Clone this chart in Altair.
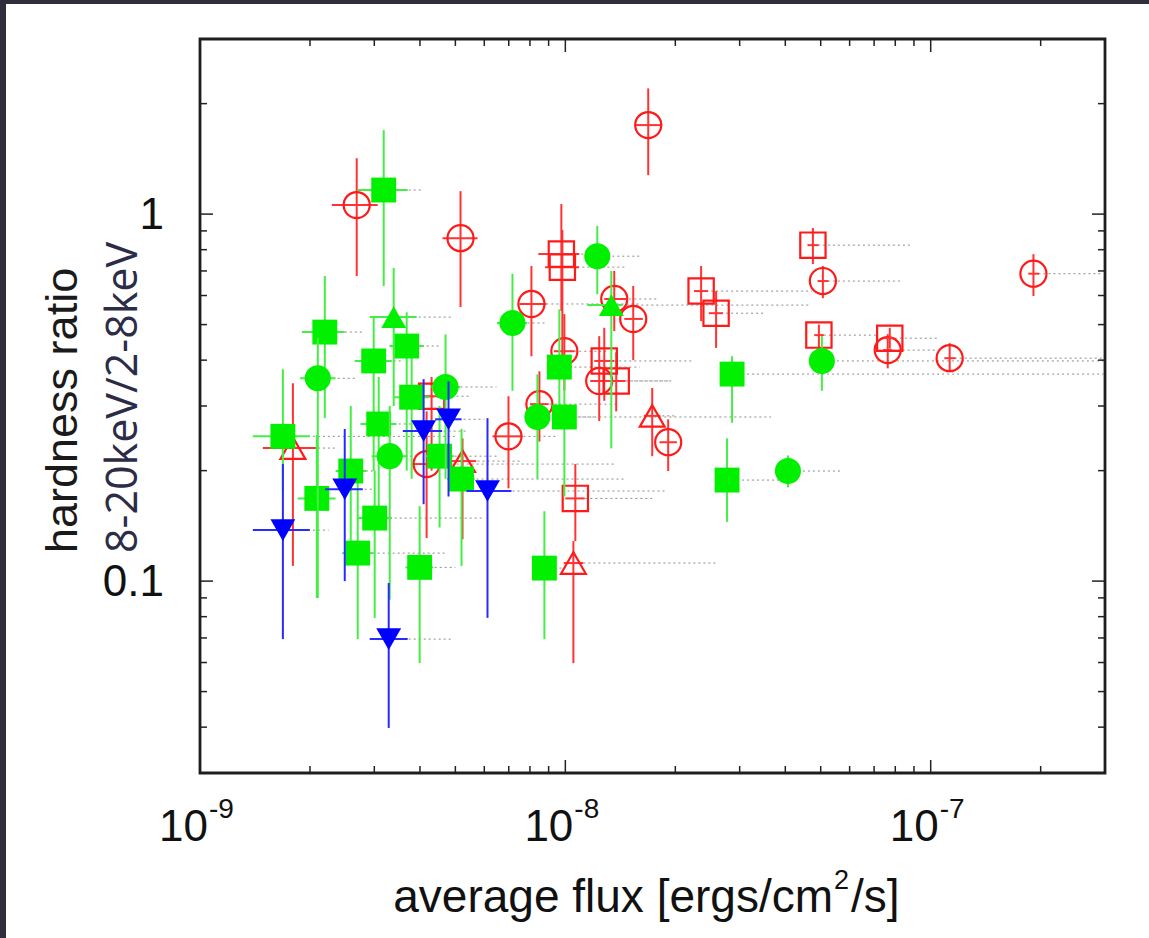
import altair as alt
import pandas as pd

W, H = 905, 734

# ---------------- data ----------------
# red open circles
rc_x = [2.685e-9, 5.165e-9, 1.686e-8, 8.075e-9, 1.361e-8, 1.534e-8, 5.069e-8, 1.911e-7, 7.628e-8, 1.127e-7, 9.938e-9, 8.492e-9, 6.988e-9, 1.238e-8, 1.912e-8, 4.171e-9]
rc_y = [1.058, 0.860, 1.748, 0.569, 0.587, 0.518, 0.657, 0.688, 0.426, 0.405, 0.423, 0.3035, 0.248, 0.351, 0.239, 0.2084]
rc_xlo = [2.295e-9, 4.612e-9, 1.554e-8, 7.488e-9, 1.278e-8, 1.45e-8, 4.9e-8, 1.85e-7, 7.4e-8, 1.09e-7, 9.3e-9, 8.0e-9, 6.317e-9, 1.17e-8, 1.81e-8, 3.8e-9]
rc_xhi = [3.065e-9, 5.749e-9, 1.841e-8, 8.874e-9, 1.468e-8, 1.63e-8, 5.25e-8, 1.98e-7, 7.85e-8, 1.17e-7, 1.06e-8, 9.0e-9, 7.631e-9, 1.31e-8, 2.02e-8, 4.6e-9]
rc_ylo = [0.678, 0.558, 1.277, 0.410, 0.480, 0.400, 0.590, 0.598, 0.380, 0.371, 0.330, 0.240, 0.179, 0.273, 0.1995, 0.131]
rc_yhi = [1.42, 1.155, 2.20, 0.722, 0.700, 0.637, 0.722, 0.778, 0.471, 0.445, 0.534, 0.373, 0.319, 0.465, 0.276, 0.290]
rc_xend = [2.685e-9, 5.165e-9, 1.686e-8, 1.593e-8, 1.784e-8, 1.534e-8, 8.333e-8, 2.97e-7, 1.05e-7, 2.97e-7, 1.3e-8, 1.4e-8, 9.45e-9, 1.95e-8, 1.912e-8, 1.36e-8]

# red open squares
rs_x = [9.752e-9, 9.813e-9, 2.353e-8, 2.586e-8, 4.76e-8, 4.943e-8, 7.727e-8, 1.278e-8, 1.378e-8, 1.065e-8, 4.304e-9]
rs_y = [0.778, 0.717, 0.617, 0.537, 0.823, 0.468, 0.459, 0.398, 0.351, 0.168, 0.319]
rs_xlo = [8.438e-9, 8.8e-9, 2.25e-8, 2.47e-8, 4.6e-8, 4.8e-8, 7.5e-8, 1.2e-8, 1.3e-8, 1.0e-8, 4.0e-9]
rs_xhi = [1.092e-8, 1.09e-8, 2.46e-8, 2.7e-8, 4.93e-8, 5.1e-8, 7.95e-8, 1.36e-8, 1.46e-8, 1.13e-8, 4.6e-9]
rs_ylo = [0.545, 0.385, 0.511, 0.432, 0.731, 0.43, 0.43, 0.31, 0.29, 0.1285, 0.20]
rs_yhi = [1.065, 0.905, 0.722, 0.617, 0.916, 0.50, 0.49, 0.49, 0.42, 0.2084, 0.36]
rs_xend = [1.2e-8, 1.468e-8, 4.731e-8, 3.542e-8, 8.818e-8, 7.2e-8, 1.052e-7, 2.21e-8, 1.949e-8, 1.729e-8, 5.5e-9]

# red open triangles
rt_x = [1.796e-9, 5.231e-9, 1.729e-8, 1.052e-8]
rt_y = [0.2304, 0.2123, 0.282, 0.112]
rt_xlo = [1.486e-9, 4.8e-9, 1.64e-8, 9.9e-9]
rt_xhi = [2.088e-9, 5.7e-9, 1.82e-8, 1.12e-8]
rt_ylo = [0.110, 0.130, 0.219, 0.0598]
rt_yhi = [0.346, 0.245, 0.336, 0.1285]
rt_xend = [2.368e-9, 7.5e-9, 2.0e-8, 2.586e-8]

# green filled squares
gs_x = [3.183e-9, 2.196e-9, 2.988e-9, 3.679e-9, 3.796e-9, 3.084e-9, 1.686e-9, 2.586e-9, 2.088e-9, 3.007e-9, 2.702e-9, 3.992e-9, 4.526e-9, 5.198e-9, 8.763e-9, 9.938e-9, 9.63e-9, 2.86e-8, 2.771e-8]
gs_y = [1.163, 0.477, 0.398, 0.437, 0.317, 0.268, 0.248, 0.1995, 0.168, 0.1485, 0.1192, 0.109, 0.219, 0.1897, 0.1085, 0.280, 0.383, 0.3665, 0.1885]
gs_xlo = [2.702e-9, 1.900e-9, 2.65e-9, 3.3e-9, 3.4e-9, 2.75e-9, 1.395e-9, 2.35e-9, 1.85e-9, 2.7e-9, 2.45e-9, 3.65e-9, 4.15e-9, 4.75e-9, 8.2e-9, 9.2e-9, 8.9e-9, 2.72e-8, 2.65e-8]
gs_xhi = [3.702e-9, 2.49e-9, 3.35e-9, 4.1e-9, 4.25e-9, 3.45e-9, 1.998e-9, 2.85e-9, 2.35e-9, 3.35e-9, 2.98e-9, 4.35e-9, 4.95e-9, 5.65e-9, 9.4e-9, 1.07e-8, 1.04e-8, 3.0e-8, 2.9e-8]
gs_ylo = [0.637, 0.278, 0.1995, 0.20, 0.19, 0.15, 0.176, 0.12, 0.09, 0.0794, 0.0695, 0.0598, 0.14, 0.110, 0.0695, 0.17, 0.27, 0.27, 0.145]
gs_yhi = [1.694, 0.678, 0.521, 0.54, 0.43, 0.36, 0.378, 0.30, 0.25, 0.20, 0.19, 0.16, 0.30, 0.26, 0.155, 0.40, 0.55, 0.41, 0.245]
gs_xend = [4.068e-9, 2.788e-9, 3.6e-9, 4.5e-9, 4.7e-9, 3.8e-9, 5.0e-9, 3.0e-9, 2.368e-9, 6.0e-9, 4.67e-9, 5.0e-9, 6.5e-9, 1.468e-8, 1.0e-8, 3.655e-8, 1.6e-8, 2.97e-7, 3.843e-8]

# green filled circles
gc_x = [2.101e-9, 3.306e-9, 4.700e-9, 7.166e-9, 8.386e-9, 1.223e-8, 5.037e-8, 4.067e-8]
gc_y = [0.357, 0.219, 0.338, 0.505, 0.280, 0.768, 0.398, 0.1995]
gc_xlo = [1.88e-9, 2.95e-9, 4.3e-9, 6.5e-9, 7.8e-9, 1.15e-8, 4.85e-8, 3.95e-8]
gc_xhi = [2.35e-9, 3.7e-9, 5.15e-9, 7.85e-9, 9.0e-9, 1.3e-8, 5.2e-8, 4.2e-8]
gc_ylo = [0.090, 0.089, 0.19, 0.330, 0.190, 0.605, 0.330, 0.18]
gc_yhi = [0.46, 0.30, 0.47, 0.687, 0.366, 0.928, 0.465, 0.22]
gc_xend = [2.7e-9, 4.0e-9, 6.48e-9, 8.874e-9, 1.2e-8, 1.593e-8, 2.97e-7, 5.713e-8]

# green filled triangles
gt_x = [3.39e-9, 1.336e-8]
gt_y = [0.524, 0.565]
gt_xlo = [2.914e-9, 1.148e-8]
gt_xhi = [3.92e-9, 1.43e-8]
gt_ylo = [0.30, 0.23]
gt_yhi = [0.713, 0.70]
gt_xend = [4.912e-9, 4.643e-8]

# blue filled down-triangles
bt_x = [1.686e-9, 2.49e-9, 3.285e-9, 4.093e-9, 4.789e-9, 6.122e-9]
bt_y = [0.1377, 0.178, 0.0695, 0.2563, 0.276, 0.176]
bt_xlo = [1.395e-9, 2.2e-9, 2.914e-9, 3.59e-9, 4.4e-9, 5.364e-9]
bt_xhi = [1.998e-9, 2.79e-9, 3.702e-9, 4.6e-9, 5.2e-9, 7.121e-9]
bt_ylo = [0.0695, 0.100, 0.0398, 0.162, 0.17, 0.0794]
bt_yhi = [0.2084, 0.2597, 0.0988, 0.355, 0.35, 0.278]
bt_xend = [2.25e-9, 3.0e-9, 4.881e-9, 5.4e-9, 6.0e-9, 1.888e-8]

# axis ticks / labels
x_major = [1e-9, 1e-8, 1e-7]
x_exp = ["-9", "-8", "-7"]
x_minor = [2e-9, 3e-9, 4e-9, 5e-9, 6e-9, 7e-9, 8e-9, 9e-9,
           2e-8, 3e-8, 4e-8, 5e-8, 6e-8, 7e-8, 8e-8, 9e-8, 2e-7]
y_major = [0.1, 1.0]
y_labels = ["0.1", "1"]
y_minor = [0.04, 0.05, 0.06, 0.07, 0.08, 0.09,
           0.2, 0.3, 0.4, 0.5, 0.6, 0.7, 0.8, 0.9, 2.0]

x_title_main = "average flux [ergs/cm"
x_title_sup = "2"
x_title_tail = "/s]"
y_title1 = "hardness ratio"
y_title2 = "8-20keV/2-8keV"

# ---------------- chart ----------------
xs = alt.Scale(type="log", domain=[1e-9, 3e-7], nice=False)
ys = alt.Scale(type="log", domain=[0.03, 3], nice=False)
FONT = "Liberation Sans"
TXT = "#111111"
one = pd.DataFrame({"a": [0]})


def frame(x, y, xlo, xhi, ylo, yhi, xend):
    return pd.DataFrame(dict(x=x, y=y, xlo=xlo, xhi=xhi, ylo=ylo, yhi=yhi, xend=xend))


RED, RED_BAR = "#ff1a1a", "#ff3333"
GRN, GRN_BAR = "#00f000", "#44ee44"
BLU, BLU_BAR = "#0000ff", "#2a2aff"

groups = [
    (frame(rc_x, rc_y, rc_xlo, rc_xhi, rc_ylo, rc_yhi, rc_xend), RED, RED_BAR, "circle", False, 680),
    (frame(rs_x, rs_y, rs_xlo, rs_xhi, rs_ylo, rs_yhi, rs_xend), RED, RED_BAR, "square", False, 640),
    (frame(rt_x, rt_y, rt_xlo, rt_xhi, rt_ylo, rt_yhi, rt_xend), RED, RED_BAR, "triangle-up", False, 620),
    (frame(gs_x, gs_y, gs_xlo, gs_xhi, gs_ylo, gs_yhi, gs_xend), GRN, GRN_BAR, "square", True, 620),
    (frame(gc_x, gc_y, gc_xlo, gc_xhi, gc_ylo, gc_yhi, gc_xend), GRN, GRN_BAR, "circle", True, 680),
    (frame(gt_x, gt_y, gt_xlo, gt_xhi, gt_ylo, gt_yhi, gt_xend), GRN, GRN_BAR, "triangle-up", True, 620),
    (frame(bt_x, bt_y, bt_xlo, bt_xhi, bt_ylo, bt_yhi, bt_xend), BLU, BLU_BAR, "triangle-down", True, 620),
]

layers = []

# dotted lines to the right
for df, col, bcol, shape, filled, size in groups:
    layers.append(
        alt.Chart(df).mark_rule(color="#8c8c8c", strokeWidth=1, strokeDash=[2, 3], clip=True).encode(
            x=alt.X("x:Q", scale=xs, axis=None), x2="xend:Q", y=alt.Y("y:Q", scale=ys, axis=None)
        )
    )

# error bars and markers
for df, col, bcol, shape, filled, size in groups:
    base = alt.Chart(df)
    layers.append(
        base.mark_rule(color=bcol, strokeWidth=2, clip=True).encode(
            x=alt.X("x:Q", scale=xs, axis=None), y=alt.Y("ylo:Q", scale=ys, axis=None), y2="yhi:Q"
        )
    )
    layers.append(
        base.mark_rule(color=bcol, strokeWidth=2, clip=True).encode(
            x=alt.X("xlo:Q", scale=xs, axis=None), x2="xhi:Q", y=alt.Y("y:Q", scale=ys, axis=None)
        )
    )
    if filled:
        mk = base.mark_point(shape=shape, filled=True, size=size, color=col, opacity=1, clip=True)
    else:
        mk = base.mark_point(shape=shape, filled=False, size=size, color=col, strokeWidth=2.2, opacity=1, clip=True)
    layers.append(mk.encode(x=alt.X("x:Q", scale=xs, axis=None), y=alt.Y("y:Q", scale=ys, axis=None)))

# inward ticks on all four sides
xmaj = pd.DataFrame({"v": x_major, "e": x_exp})
xmin = pd.DataFrame({"v": x_minor})
ymaj = pd.DataFrame({"v": y_major, "t": y_labels})
ymin = pd.DataFrame({"v": y_minor})
TK = "#222222"
for d, L in [(xmaj, 13), (xmin, 7)]:
    layers.append(alt.Chart(d).mark_rule(color=TK, strokeWidth=1.5).encode(
        x=alt.X("v:Q", scale=xs, axis=None), y=alt.value(H), y2=alt.value(H - L)))
    layers.append(alt.Chart(d).mark_rule(color=TK, strokeWidth=1.5).encode(
        x=alt.X("v:Q", scale=xs, axis=None), y=alt.value(0), y2=alt.value(L)))
for d, L in [(ymaj, 13), (ymin, 7)]:
    layers.append(alt.Chart(d).mark_rule(color=TK, strokeWidth=1.5).encode(
        y=alt.Y("v:Q", scale=ys, axis=None), x=alt.value(0), x2=alt.value(L)))
    layers.append(alt.Chart(d).mark_rule(color=TK, strokeWidth=1.5).encode(
        y=alt.Y("v:Q", scale=ys, axis=None), x=alt.value(W), x2=alt.value(W - L)))

# y tick labels
layers.append(alt.Chart(ymaj).mark_text(align="right", baseline="middle", dx=0, dy=2,
                                        fontSize=44, font=FONT, color=TXT).encode(
    y=alt.Y("v:Q", scale=ys, axis=None), x=alt.value(-36), text="t:N"))

# x tick labels: 10 with superscript exponent
layers.append(alt.Chart(xmaj).mark_text(text="10", align="right", baseline="alphabetic", dx=8,
                                        fontSize=44, font=FONT, color=TXT).encode(
    x=alt.X("v:Q", scale=xs, axis=None), y=alt.value(H + 68)))
layers.append(alt.Chart(xmaj).mark_text(align="left", baseline="alphabetic", dx=9,
                                        fontSize=28, font=FONT, color=TXT).encode(
    x=alt.X("v:Q", scale=xs, axis=None), y=alt.value(H + 45), text="e:N"))

# x axis title with superscript
layers.append(alt.Chart(one).mark_text(text=x_title_main, align="right", baseline="alphabetic",
                                       fontSize=46, font=FONT, color=TXT).encode(
    x=alt.value(633), y=alt.value(H + 139)))
layers.append(alt.Chart(one).mark_text(text=x_title_sup, align="left", baseline="alphabetic",
                                       fontSize=27, font=FONT, color=TXT).encode(
    x=alt.value(634), y=alt.value(H + 116)))
layers.append(alt.Chart(one).mark_text(text=x_title_tail, align="left", baseline="alphabetic",
                                       fontSize=46, font=FONT, color=TXT).encode(
    x=alt.value(651), y=alt.value(H + 139)))

# y axis title (two lines)
layers.append(alt.Chart(one).mark_text(text=y_title1, align="left", baseline="alphabetic", angle=270,
                                       fontSize=45, font=FONT, color="#1a1a1a").encode(
    x=alt.value(-123), y=alt.value(514)))
layers.append(alt.Chart(one).mark_text(text=y_title2, align="left", baseline="alphabetic", angle=270,
                                       fontSize=43, font="Open Sans", color="#2c2c46").encode(
    x=alt.value(-63), y=alt.value(514)))

# plot frame
layers.append(alt.Chart(one).mark_rect(filled=False, stroke="#1e1e1e", strokeWidth=2.8).encode(
    x=alt.value(0), x2=alt.value(W), y=alt.value(0), y2=alt.value(H)))

# dark page border strips (left and top)
layers.append(alt.Chart(one).mark_rect(color="#302e3c").encode(
    x=alt.value(-200), x2=alt.value(-194), y=alt.value(-39), y2=alt.value(899)))
layers.append(alt.Chart(one).mark_rect(color="#302e3c").encode(
    x=alt.value(-200), x2=alt.value(949), y=alt.value(-39), y2=alt.value(-35)))

chart = alt.layer(*layers).properties(
    width=W, height=H,
    autosize=alt.AutoSizeParams(type="none"),
    padding={"left": 200, "top": 39, "right": 44, "bottom": 165},
).configure_view(stroke=None).configure(background="#ffffff")

chart.save("out.html", embed_options={"renderer": "svg", "actions": False})
